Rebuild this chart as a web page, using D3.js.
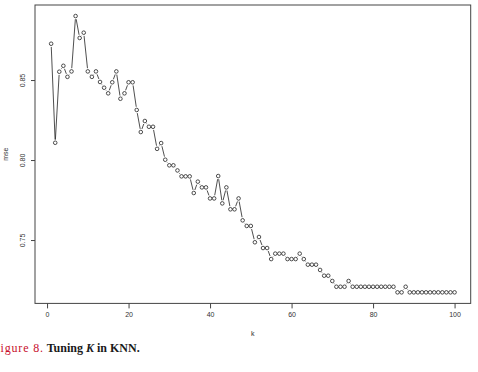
<!DOCTYPE html>
<html>
<head>
<meta charset="utf-8">
<script src="https://cdn.jsdelivr.net/npm/d3@7"></script>
<style>
    body { margin: 0; background: #fff; }
    svg { display: block; }
</style>
</head>
<body>
<div id="chart"></div>
<script>
// mse for k = 1..100
const mse = [
    0.8727, 0.8108, 0.8552, 0.8589, 0.8520, 0.8554, 0.8900, 0.8763, 0.8796, 0.8554,
    0.8520, 0.8554, 0.8488, 0.8452, 0.8417, 0.8486, 0.8554, 0.8383, 0.8417, 0.8486,
    0.8486, 0.8313, 0.8175, 0.8244, 0.8208, 0.8208, 0.8070, 0.8106, 0.8002, 0.7967,
    0.7967, 0.7935, 0.7898, 0.7898, 0.7898, 0.7794, 0.7865, 0.7829, 0.7829, 0.7760,
    0.7760, 0.7900, 0.7729, 0.7829, 0.7692, 0.7692, 0.7760, 0.7623, 0.7588, 0.7588,
    0.7486, 0.7519, 0.7450, 0.7450, 0.7381, 0.7415, 0.7415, 0.7415, 0.7381, 0.7381,
    0.7381, 0.7415, 0.7381, 0.7346, 0.7346, 0.7346, 0.7313, 0.7277, 0.7277, 0.7244,
    0.7208, 0.7208, 0.7208, 0.7244, 0.7208, 0.7208, 0.7208, 0.7208, 0.7208, 0.7208,
    0.7208, 0.7208, 0.7208, 0.7208, 0.7208, 0.7173, 0.7173, 0.7208, 0.7173, 0.7173,
    0.7173, 0.7173, 0.7173, 0.7173, 0.7173, 0.7173, 0.7173, 0.7173, 0.7173, 0.7173
];
const kValues = mse.map((d, i) => i + 1);
const xTicks = [0, 20, 40, 60, 80, 100];
const yTicks = [0.75, 0.80, 0.85];

const width = 478, height = 372;
const box = { left: 35, right: 470.7, top: 5, bottom: 303.4 };
const axisColor = "#444", textColor = "#333";
const fontFamily = "'Liberation Sans', Arial, Helvetica, sans-serif";

const svg = d3.select("#chart")
    .append("svg")
    .attr("width", width)
    .attr("height", height);

// R style ranges: data range padded by 4% each side
const xExt = d3.extent(kValues), yExt = d3.extent(mse);
const xPad = (xExt[1] - xExt[0]) * 0.04, yPad = (yExt[1] - yExt[0]) * 0.04;

const xScale = d3.scaleLinear()
    .domain([xExt[0] - xPad, xExt[1] + xPad])
    .range([box.left, box.right]);
const yScale = d3.scaleLinear()
    .domain([yExt[0] - yPad, yExt[1] + yPad])
    .range([box.bottom, box.top]);

/** frame */
svg.append("rect")
    .attr("x", box.left)
    .attr("y", box.top)
    .attr("width", box.right - box.left)
    .attr("height", box.bottom - box.top)
    .attr("fill", "none")
    .attr("stroke", axisColor)
    .attr("stroke-width", 1);

/** axes */
const axisX = d3.axisBottom(xScale)
    .tickValues(xTicks)
    .tickSize(5)
    .tickPadding(4)
    .tickFormat(d3.format("d"));
const gx = svg.append("g")
    .attr("class", "axis_x")
    .attr("transform", `translate(0, ${box.bottom})`)
    .call(axisX);
gx.select(".domain").attr("stroke", "none");
gx.selectAll("line").attr("stroke", axisColor);
gx.selectAll("text")
    .attr("font-family", fontFamily)
    .attr("font-size", 7)
    .attr("fill", textColor);

const axisY = d3.axisLeft(yScale)
    .tickValues(yTicks)
    .tickSize(4)
    .tickFormat(d3.format(".2f"));
const gy = svg.append("g")
    .attr("class", "axis_y")
    .attr("transform", `translate(${box.left}, 0)`)
    .call(axisY);
gy.select(".domain").attr("stroke", "none");
gy.selectAll("line").attr("stroke", axisColor);
gy.selectAll("text")
    .attr("x", null)
    .attr("dy", null)
    .attr("text-anchor", "middle")
    .attr("transform", "translate(-10, 0) rotate(-90)")
    .attr("font-family", fontFamily)
    .attr("font-size", 7)
    .attr("fill", textColor);

/** axis labels */
svg.append("text")
    .attr("x", (box.left + box.right) / 2)
    .attr("y", 336)
    .attr("text-anchor", "middle")
    .attr("font-family", fontFamily)
    .attr("font-size", 7)
    .attr("fill", textColor)
    .text("k");
svg.append("text")
    .attr("transform", `translate(8, ${(box.top + box.bottom) / 2}) rotate(-90)`)
    .attr("text-anchor", "middle")
    .attr("font-family", fontFamily)
    .attr("font-size", 7)
    .attr("fill", textColor)
    .text("mse");

/** lines between points, with gaps round the circles (type = "b") */
const pts = mse.map((v, i) => ({ x: xScale(kValues[i]), y: yScale(v) }));
const gap = 3.2;
const segs = [];
for (let i = 1; i < pts.length; i++) {
    const a = pts[i - 1], b = pts[i];
    const dx = b.x - a.x, dy = b.y - a.y;
    const len = Math.sqrt(dx * dx + dy * dy);
    if (len <= gap * 2) continue;
    const ux = dx / len, uy = dy / len;
    segs.push({ x1: a.x + ux * gap, y1: a.y + uy * gap, x2: b.x - ux * gap, y2: b.y - uy * gap });
}
svg.append("g")
    .attr("class", "lineGroup")
    .attr("stroke", "#222")
    .attr("stroke-width", 0.8)
    .selectAll("line")
    .data(segs)
    .enter().append("line")
    .attr("x1", d => d.x1)
    .attr("y1", d => d.y1)
    .attr("x2", d => d.x2)
    .attr("y2", d => d.y2);

/** points */
svg.append("g")
    .attr("class", "circleGroup")
    .attr("fill", "none")
    .attr("stroke", "#222")
    .attr("stroke-width", 0.8)
    .selectAll("circle")
    .data(mse)
    .enter().append("circle")
    .attr("r", 1.8)
    .attr("cx", (d, i) => xScale(kValues[i]))
    .attr("cy", d => yScale(d));

/** caption (its left edge is cut in the original figure) */
const caption = svg.append("g")
    .attr("font-family", "'Liberation Serif', 'DejaVu Serif', serif")
    .attr("font-size", 12);
caption.append("text")
    .attr("x", -7)
    .attr("y", 352)
    .attr("fill", "#c8102e")
    .attr("textLength", 50)
    .attr("lengthAdjust", "spacing")
    .text("Figure 8.");
const title = caption.append("text")
    .attr("x", 46.7)
    .attr("y", 352)
    .attr("fill", "#1a1a1a")
    .attr("font-weight", "bold")
    .attr("textLength", 93)
    .attr("lengthAdjust", "spacing");
title.append("tspan").text("Tuning ");
title.append("tspan").attr("font-style", "italic").text("K");
title.append("tspan").text(" in KNN.");
</script>
</body>
</html>
